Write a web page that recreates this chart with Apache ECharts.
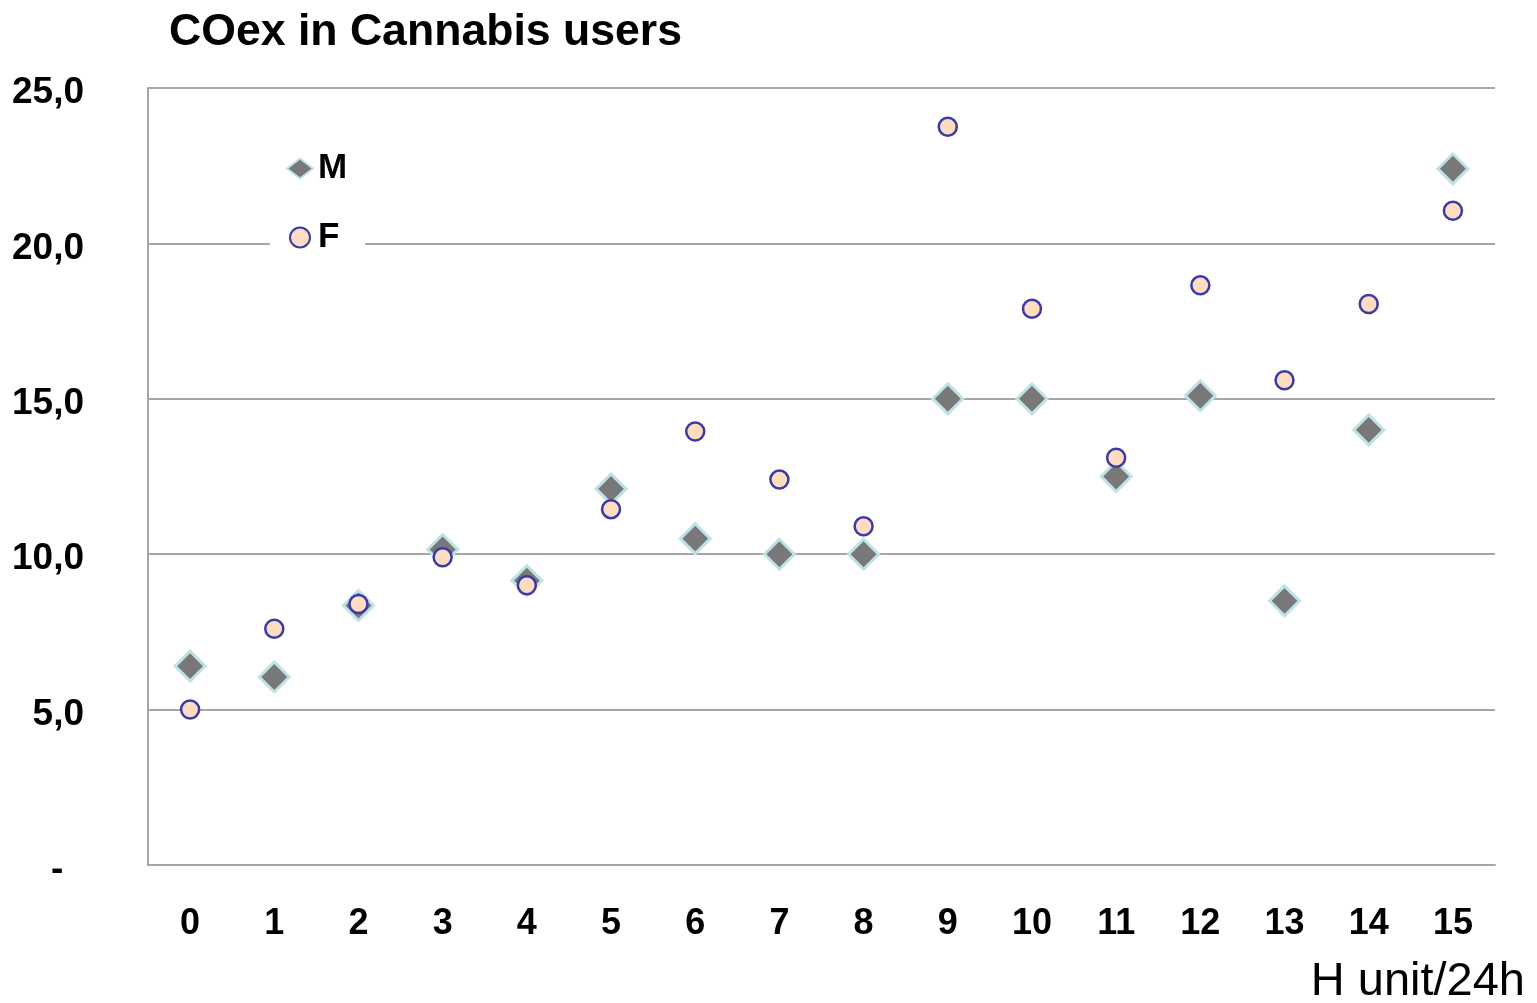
<!DOCTYPE html>
<html>
<head>
<meta charset="utf-8">
<title>COex in Cannabis users</title>
<script src="https://cdn.jsdelivr.net/npm/echarts@6/dist/echarts.min.js"></script>
<style>
  html, body { margin: 0; padding: 0; background: #fff; }
  #chart { width: 1537px; height: 1003px; }
</style>
</head>
<body>
<div id="chart"></div>
<script>
// categories (H unit / 24h)
const categories = ['0', '1', '2', '3', '4', '5', '6', '7', '8', '9', '10', '11', '12', '13', '14', '15']
// COex values
const maleValues = [6.4, 6.05, 8.35, 10.15, 9.15, 12.1, 10.5, 10.0, 10.0, 15.0, 15.0, 12.5, 15.1, 8.5, 14.0, 22.4]
const femaleValues = [5.0, 7.6, 8.4, 9.9, 9.0, 11.45, 13.95, 12.4, 10.9, 23.75, 17.9, 13.1, 18.65, 15.6, 18.05, 21.05]
const yTicks = { min: 0, max: 25, interval: 5 }

const gridColor = '#a6a6a6'
const font = '"Liberation Sans", Arial, sans-serif'

let mycharts = echarts.init(document.getElementById('chart'))
mycharts.setOption({
  animation: false,
  title: [
    {
      text: 'COex in Cannabis users',
      left: 164,
      top: 5,
      textStyle: { fontFamily: font, fontSize: 44.6, fontWeight: 'bold', color: '#000' },
    },
    {
      text: 'H unit/24h',
      right: 7,
      top: 954,
      textStyle: { fontFamily: font, fontSize: 47, fontWeight: 'normal', color: '#000' },
    },
  ],
  legend: {
    orient: 'vertical',
    left: 270,
    top: 141,
    itemWidth: 26,
    itemHeight: 20,
    itemGap: 34,
    padding: [10, 18, 6, 16],
    backgroundColor: '#fff',
    data: [
      { name: 'M', icon: 'diamond' },
      { name: 'F', icon: 'circle' },
    ],
    textStyle: { fontFamily: font, fontSize: 35, fontWeight: 'bold', color: '#000' },
  },
  grid: {
    left: 148,
    right: 42,
    top: 88,
    bottom: 138,
  },
  xAxis: {
    type: 'category',
    data: categories,
    boundaryGap: true,
    axisLine: { lineStyle: { color: gridColor, width: 2 } },
    axisTick: { show: false },
    axisLabel: {
      margin: 41,
      fontFamily: font,
      fontSize: 36,
      fontWeight: 'bold',
      color: '#000',
    },
  },
  yAxis: {
    type: 'value',
    min: yTicks.min,
    max: yTicks.max,
    interval: yTicks.interval,
    axisLine: { show: true, lineStyle: { color: gridColor, width: 2 } },
    axisTick: { show: false },
    splitLine: { lineStyle: { color: gridColor, width: 2 } },
    axisLabel: {
      margin: 64,
      verticalAlign: 'top',
      lineHeight: 10,
      fontFamily: font,
      fontSize: 37,
      fontWeight: 'bold',
      color: '#000',
      formatter: (v) => (v === 0 ? '-  ' : v.toFixed(1).replace('.', ',')),
    },
  },
  series: [
    {
      name: 'M',
      type: 'scatter',
      symbol: 'diamond',
      symbolSize: 30,
      data: maleValues,
      itemStyle: { color: '#787878', borderColor: '#bfe2e6', borderWidth: 3, opacity: 1 },
      z: 2,
    },
    {
      name: 'F',
      type: 'scatter',
      symbol: 'circle',
      symbolSize: 18,
      data: femaleValues,
      itemStyle: { color: '#fddcbf', borderColor: '#3a3aa8', borderWidth: 2.5, opacity: 1 },
      z: 3,
    },
  ],
})
</script>
</body>
</html>
